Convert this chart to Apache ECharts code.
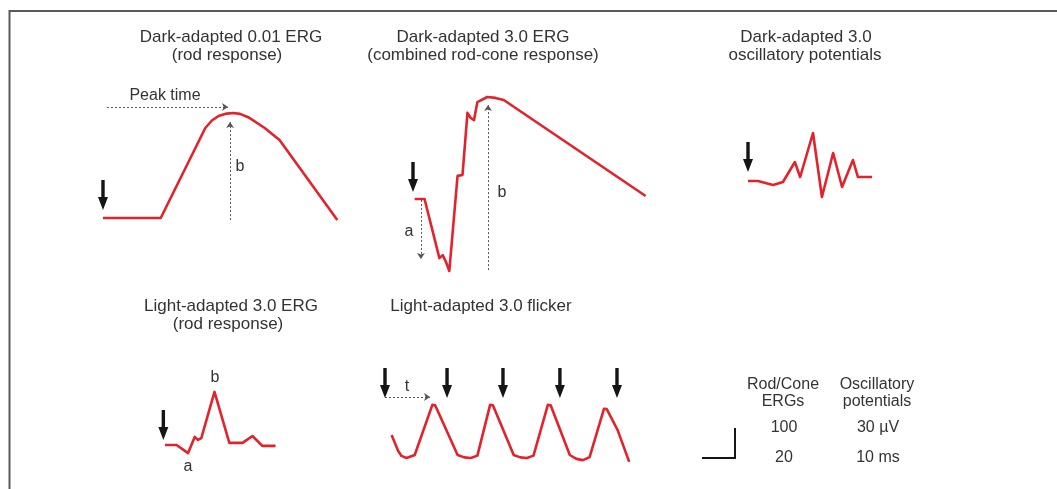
<!DOCTYPE html>
<html>
<head>
<meta charset="utf-8">
<script src="https://cdn.jsdelivr.net/npm/echarts@6/dist/echarts.min.js"></script>
<style>
  html, body { margin: 0; padding: 0; background: #ffffff; }
  #chart { width: 1057px; height: 489px; }
</style>
</head>
<body>
<div id="chart"></div>
<script>
// ISCEV standard ERG responses. Time in ms, amplitude in µV.

// Dark-adapted 0.01 ERG (rod response)
const rodTrace = [[0, 0], [35, 0], [62, 300], [66, 325], [70, 340], [75, 348], [79, 350], [83, 347], [88, 336], [98, 300], [107, 260], [142, -7]];
const rodFlash = [[0, 27]];

// Dark-adapted 3.0 ERG (combined rod-cone response)
const mixedTrace = [[1, 0], [7, 0], [16, -197], [18, -187], [20, -210], [22, -240], [27, 77], [30, 80], [33, 287], [35, 270], [37, 263], [39, 323], [45, 340], [50, 337], [55, 330], [141, 10]];
const mixedFlash = [[0, 23]];

// Dark-adapted 3.0 oscillatory potentials
const opTrace = [[0, 0], [3, 0], [7.6, -4], [10.6, -1], [14.2, 19], [15.8, 4], [19.7, 48], [22.4, -16], [25.8, 28], [28.5, -6], [31.8, 21], [33.3, 4], [37.6, 4]];
const opFlash = [[0, 9]];

// Light-adapted 3.0 ERG
const coneTrace = [[0, 0], [7, 0], [14, -27], [18, 27], [20, 17], [22, 23], [30, 177], [39, 7], [47, 7], [53, 30], [59, -3], [67, -3]];
const coneFlash = [[-1, 17]];

// Light-adapted 3.0 flicker
const flickerTrace = [[4, 77], [8, 23], [10, 7], [13, 0], [18, 10], [28.7, 177], [29.5, 183], [30.4, 176], [44, 10], [48, 2], [52, 0], [56, 8], [63.7, 177], [64.5, 183], [65.4, 176], [78, 10], [82, 2], [86, 0], [90, 8], [98.7, 177], [99.5, 183], [100.4, 176], [112, 10], [116, -3], [120, -7], [124, 3], [132.7, 164], [133.5, 170], [134.4, 163], [141, 93], [148, -13]];
const flickerFlashes = [[0, 200], [37.6, 200], [71.5, 200], [106, 200], [140.6, 200]];

// Calibration labels
const scaleHeads = [['Rod/Cone', 'ERGs'], ['Oscillatory', 'potentials']];
const scaleAmp = ['100', '30 µV'];
const scaleTime = ['20', '10 ms'];

const RED = '#e2232b';
const INK = '#333333';
const FONT = '"Liberation Sans", Arial, sans-serif';
const ARROW = 'path://M3.3,0 L6.7,0 L6.7,17 L10,17 L5,30 L0,17 L3.3,17 Z';

// Panel layout: stimulus origin (px), px per ms, px per µV, plot box
const panels = [
  { ox: 103, oy: 218, sx: 1.65, sy: 0.3, box: [95, 85, 250, 145] },
  { ox: 413, oy: 199, sx: 1.65, sy: 0.3, box: [400, 85, 255, 195] },
  { ox: 748, oy: 181, sx: 3.3, sy: 1.0, box: [735, 120, 150, 90] },
  { ox: 165, oy: 445, sx: 1.65, sy: 0.3, box: [150, 365, 135, 110] },
  { ox: 385, oy: 458, sx: 1.65, sy: 0.3, box: [375, 360, 265, 110] }
];

const grid = [], xAxis = [], yAxis = [];
panels.forEach(function (p, i) {
  const [l, t, w, h] = p.box;
  grid.push({ left: l, top: t, width: w, height: h });
  xAxis.push({ type: 'value', gridIndex: i, show: false, min: (l - p.ox) / p.sx, max: (l + w - p.ox) / p.sx });
  yAxis.push({ type: 'value', gridIndex: i, show: false, min: (p.oy - t - h) / p.sy, max: (p.oy - t) / p.sy });
});

function trace(i, data, guides) {
  const s = {
    type: 'line', xAxisIndex: i, yAxisIndex: i, data: data,
    symbol: 'none', clip: false, silent: true,
    lineStyle: { color: RED, width: 2.6, join: 'round' }
  };
  if (guides) {
    s.markLine = {
      silent: true, symbol: ['none', 'arrow'], symbolSize: [6, 6],
      lineStyle: { color: '#555', width: 1, type: [2, 2] },
      label: { show: false },
      data: guides.map(function (g) { return [{ coord: g[0] }, { coord: g[1] }]; })
    };
  }
  return s;
}

function flashes(i, data) {
  return {
    type: 'scatter', xAxisIndex: i, yAxisIndex: i, data: data, clip: false, silent: true,
    symbol: ARROW, symbolSize: [10, 30], symbolOffset: [0, '-50%'],
    itemStyle: { color: '#151515', opacity: 1 }
  };
}

const series = [
  trace(0, rodTrace, [[[2.4, 370], [75.8, 370]], [[77, -7], [77, 320]]]),
  flashes(0, rodFlash),
  trace(1, mixedTrace, [[[4.8, -3], [4.8, -200]], [[45.5, -237], [45.5, 313]]]),
  flashes(1, mixedFlash),
  trace(2, opTrace),
  flashes(2, opFlash),
  trace(3, coneTrace),
  flashes(3, coneFlash),
  trace(4, flickerTrace, [[[0, 203], [27.3, 203]]]),
  flashes(4, flickerFlashes)
];

function text(x, y, s, size) {
  return {
    type: 'text', x: x, y: y, silent: true,
    style: { text: s, fill: INK, font: (size || 16) + 'px ' + FONT, textAlign: 'center', textVerticalAlign: 'middle' }
  };
}

const T = 17;
const graphic = [
  // frame
  { type: 'polyline', shape: { points: [[9.5, 489], [9.5, 11], [1057, 11]] }, style: { stroke: '#5a5a5a', lineWidth: 2, fill: null } },
  // panel titles
  text(231, 37, 'Dark-adapted 0.01 ERG', T), text(227, 55, '(rod response)', T),
  text(483, 37, 'Dark-adapted 3.0 ERG', T), text(483, 55, '(combined rod-cone response)', T),
  text(806, 37, 'Dark-adapted 3.0', T), text(805, 55, 'oscillatory potentials', T),
  text(231, 306, 'Light-adapted 3.0 ERG', T), text(228, 324, '(rod response)', T),
  text(481, 306, 'Light-adapted 3.0 flicker', T),
  // component labels
  text(165, 96, 'Peak time'), text(240, 167, 'b'),
  text(409, 232, 'a'), text(502, 193, 'b'),
  text(215, 378, 'b'), text(188, 467, 'a'),
  text(407, 387, 't'),
  // calibration
  text(783, 385, scaleHeads[0][0]), text(783, 402, scaleHeads[0][1]),
  text(877, 385, scaleHeads[1][0]), text(877, 402, scaleHeads[1][1]),
  text(784, 428, scaleAmp[0]), text(878, 428, scaleAmp[1]),
  text(784, 458, scaleTime[0]), text(878, 458, scaleTime[1]),
  { type: 'polyline', shape: { points: [[735, 428], [735, 458], [702, 458]] }, style: { stroke: '#151515', lineWidth: 2, fill: null } }
];

const chart = echarts.init(document.getElementById('chart'), null, { renderer: 'canvas' });
chart.setOption({
  backgroundColor: '#ffffff',
  animation: false,
  grid: grid, xAxis: xAxis, yAxis: yAxis,
  series: series,
  graphic: graphic
});
</script>
</body>
</html>
